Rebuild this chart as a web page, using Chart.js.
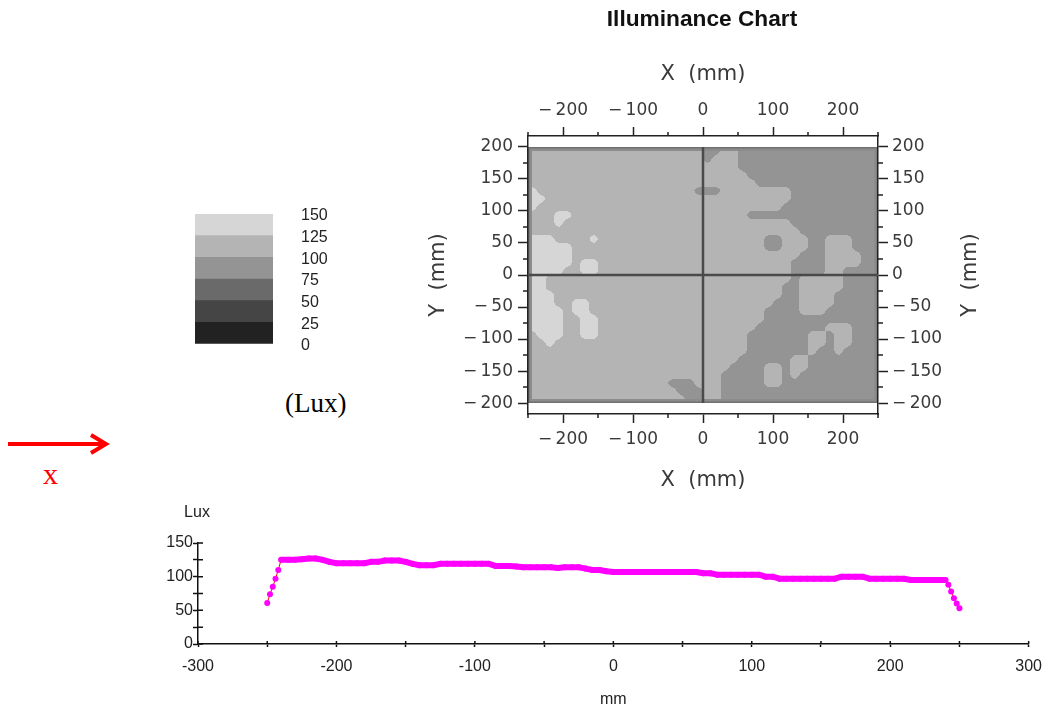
<!DOCTYPE html>
<html>
<head>
<meta charset="utf-8">
<title>Illuminance Chart</title>
<script src="https://cdn.jsdelivr.net/npm/chart.js@4.4.1/dist/chart.umd.min.js"></script>
<style>
  html, body { margin: 0; padding: 0; background: #fff; }
  body { position: relative; width: 1052px; height: 711px; overflow: hidden; }
  canvas, .lbl, svg { position: absolute; }
  #map { left: 397px; top: 0; }
  #scale { left: 180px; top: 190px; }
  #profile { left: 150px; top: 500px; }
  #luxUnit { left: 285px; top: 388px; font: 27px/30px "Liberation Serif", "Times New Roman", serif; color: #000; }
  #dirLabel { left: 43px; top: 459px; font: 30px/30px "Liberation Serif", "Times New Roman", serif; color: #ff0000; }
</style>
</head>
<body>
<canvas id="map" width="610" height="500"></canvas>
<canvas id="scale" width="180" height="170"></canvas>
<canvas id="profile" width="902" height="211"></canvas>
<div class="lbl" id="luxUnit">(Lux)</div>
<svg style="left:0;top:425px" width="120" height="40">
  <line x1="8" y1="19" x2="104" y2="19" stroke="#ff0000" stroke-width="4"/>
  <polyline points="91,10 106,19 91,28" fill="none" stroke="#ff0000" stroke-width="4"/>
</svg>
<div class="lbl" id="dirLabel">x</div>
<script>
// grey bands, Lux
var levelEdges = [0, 25, 50, 75, 100, 125, 150];
var levelColors = ['#222222', '#454545', '#6a6a6a', '#949494', '#b4b4b4', '#d6d6d6'];

// measured grid: 12.5 mm cells, columns x = -250..250, rows y = 200..-200, digit = band index
var cellSize = 12.5;
var mapRows = [
  "4444444444444444444433443333333333333333",
  "4444444444444444444434443333333333333333",
  "4444444444444444444444443333333333333333",
  "4444444444444444444444444333333333333333",
  "4444444444444444444444444433333333333333",
  "5444444444444444444333444444443333333333",
  "5544444444444444444444444444443333333333",
  "5444444444444444444444444444433333333333",
  "4445544444444444444444444333333333333333",
  "4445444444444444444444444444443333333333",
  "4444444444444444444444444444444333333333",
  "5554444544444444444444444443344433444333",
  "5555544444444444444444444443344433444333",
  "5555544444444444444444444444444333444433",
  "5555545544444444444444444444443333444433",
  "5555445544444444444444444444443333443333",
  "5544444444444444444444444444443444443333",
  "5544444444444444444444444444433444443333",
  "5554444444444444444444444444433444433333",
  "5554455444444444444444444444333444433333",
  "5555455444444444444444444443333444333333",
  "5555445544444444444444444443333333333333",
  "5555445544444444444444444433333333444333",
  "4555445544444444444444444333333344344333",
  "4454444444444444444444444333333344344333",
  "4444444444444444444444444333333343343333",
  "4444444444444444444444443333334433333333",
  "4444444444444444444444433334434433333333",
  "4444444444444444444444333334434333333333",
  "4444444444444444333444333334433333333333",
  "4444444444444444433344333333333333333333",
  "4444444444444444443344333333333333333333"
];

var mapXTicks = [-200, -100, 0, 100, 200];
var mapXMinor = [-250, -150, -50, 50, 150, 250];
var mapYTicks = [-200, -150, -100, -50, 0, 50, 100, 150, 200];
var mapYMinor = [-175, -125, -75, -25, 25, 75, 125, 175];

// centre cross of the fixture
var crossH = [[-250, 0], [250, 0]];
var crossV = [[0, 200], [0, -200]];

// illuminance along y = 0
var profileX = [-250, -248, -246, -244, -242, -240, -235, -230, -225, -220, -215, -210, -205, -200,
  -195, -190, -185, -180, -175, -170, -165, -160, -155, -150, -145, -140, -135, -130, -125, -120,
  -115, -110, -105, -100, -95, -90, -85, -80, -75, -70, -65, -60, -55, -50, -45, -40, -35, -30,
  -25, -20, -15, -10, -5, 0, 5, 10, 15, 20, 25, 30, 35, 40, 45, 50, 55, 60, 65, 70, 75, 80, 85,
  90, 95, 100, 105, 110, 115, 120, 125, 130, 135, 140, 145, 150, 155, 160, 165, 170, 175, 180,
  185, 190, 195, 200, 205, 210, 215, 220, 225, 230, 235, 240, 242, 244, 246, 248, 250];
var profileLux = [61, 74, 85, 97, 110, 125, 125, 125, 126, 127, 127, 125, 122, 120,
  120, 120, 120, 120, 122, 122, 124, 124, 124, 122, 119, 117, 117, 117, 119, 119,
  119, 119, 119, 119, 119, 119, 116, 116, 116, 115, 114, 114, 114, 114, 114, 113, 114, 114,
  114, 112, 110, 110, 108, 107, 107, 107, 107, 107, 107, 107, 107, 107, 107, 107, 107, 107, 105, 105, 103, 103, 103,
  103, 103, 103, 103, 100, 100, 97, 97, 97, 97, 97, 97, 97, 97, 97, 100, 100, 100, 100,
  97, 97, 97, 97, 97, 97, 95, 95, 95, 95, 95, 95, 88, 78, 68, 60, 53];

function minus(v) { return v < 0 ? '\u2212\u2009' + (-v) : String(v); }
function setTicks(list) {
  return function (s) { s.ticks = list.map(function (v) { return { value: v }; }); };
}
function hexRgb(h) {
  return [parseInt(h.substr(1, 2), 16), parseInt(h.substr(3, 2), 16), parseInt(h.substr(5, 2), 16)];
}
function cellLevel(r, c) {
  r = Math.max(0, Math.min(mapRows.length - 1, r));
  c = Math.max(0, Math.min(mapRows[0].length - 1, c));
  return +mapRows[r].charAt(c);
}
function sampleLevel(fc, fr) {
  var c0 = Math.floor(fc), r0 = Math.floor(fr), tc = fc - c0, tr = fr - r0;
  var a = cellLevel(r0, c0), b = cellLevel(r0, c0 + 1);
  var c = cellLevel(r0 + 1, c0), d = cellLevel(r0 + 1, c0 + 1);
  return (a * (1 - tc) + b * tc) * (1 - tr) + (c * (1 - tc) + d * tc) * tr;
}

// filled contour bands, painted under the axes
var contourPlugin = {
  id: 'contour',
  beforeDraw: function (chart) {
    var ctx = chart.ctx, xs = chart.scales.x, ys = chart.scales.y;
    var x0 = Math.round(xs.getPixelForValue(-250)), x1 = Math.round(xs.getPixelForValue(250));
    var y0 = Math.round(ys.getPixelForValue(200)), y1 = Math.round(ys.getPixelForValue(-200));
    var w = x1 - x0, h = y1 - y0;
    var img = ctx.createImageData(w, h);
    var rgb = levelColors.map(hexRgb);
    for (var py = 0; py < h; py++) {
      var fr = (200 - ys.getValueForPixel(y0 + py + 0.5)) / cellSize - 0.5;
      for (var px = 0; px < w; px++) {
        var fc = (xs.getValueForPixel(x0 + px + 0.5) + 250) / cellSize - 0.5;
        var col = rgb[Math.round(sampleLevel(fc, fr))];
        var k = (py * w + px) * 4;
        img.data[k] = col[0]; img.data[k + 1] = col[1]; img.data[k + 2] = col[2]; img.data[k + 3] = 255;
      }
    }
    ctx.putImageData(img, x0, y0);
    ctx.save();
    ctx.strokeStyle = '#8c8c8c'; ctx.lineWidth = 4;
    ctx.strokeRect(x0 + 2, y0 + 2, w - 4, h - 4);
    ctx.strokeStyle = '#707070'; ctx.lineWidth = 1.5;
    ctx.strokeRect(x0 + 0.75, y0 + 0.75, w - 1.5, h - 1.5);
    ctx.restore();
  }
};

// short ticks between the labelled ones, and the right axis title
var mapMarks = {
  id: 'mapMarks',
  afterDraw: function (chart) {
    var ctx = chart.ctx, s = chart.scales;
    ctx.save();
    ctx.strokeStyle = '#222'; ctx.lineWidth = 1.5;
    ctx.beginPath();
    mapXMinor.forEach(function (v) {
      var px = s.x.getPixelForValue(v);
      ctx.moveTo(px, s.x.top); ctx.lineTo(px, s.x.top + 4);
      px = s.x2.getPixelForValue(v);
      ctx.moveTo(px, s.x2.bottom); ctx.lineTo(px, s.x2.bottom - 4);
    });
    mapYMinor.forEach(function (v) {
      var py = s.y.getPixelForValue(v);
      ctx.moveTo(s.y.right, py); ctx.lineTo(s.y.right - 5, py);
      py = s.y2.getPixelForValue(v);
      ctx.moveTo(s.y2.left, py); ctx.lineTo(s.y2.left + 5, py);
    });
    ctx.stroke();
    ctx.fillStyle = '#3a3a3a';
    ctx.font = '21px "DejaVu Sans"';
    ctx.textAlign = 'center'; ctx.textBaseline = 'middle';
    ctx.translate(s.y2.right - 36, s.y2.getPixelForValue(0));
    ctx.rotate(-Math.PI / 2);
    ctx.fillText('Y  (mm)', 0, 0);
    ctx.restore();
  }
};

var mapTickFont = { family: 'DejaVu Sans', size: 17 };
var mapTitleFont = { family: 'DejaVu Sans', size: 21, lineHeight: '24px' };
var mapText = '#3a3a3a';
var frameGrid = function (len) {
  return { display: true, drawOnChartArea: false, drawTicks: true, tickLength: len, tickColor: '#222', tickWidth: 1.5 };
};
var frameBorder = { display: true, color: '#222', width: 1.5 };

new Chart(document.getElementById('map'), {
  type: 'scatter',
  data: {
    datasets: [
      { data: crossH.map(function (p) { return { x: p[0], y: p[1] }; }), showLine: true, borderColor: '#4a4a4a', borderWidth: 2.5, pointRadius: 0 },
      { data: crossV.map(function (p) { return { x: p[0], y: p[1] }; }), showLine: true, borderColor: '#4a4a4a', borderWidth: 2.5, pointRadius: 0 }
    ]
  },
  options: {
    responsive: false, animation: false, devicePixelRatio: 1,
    layout: { padding: 0 },
    events: [],
    plugins: {
      legend: { display: false },
      tooltip: { enabled: false },
      title: {
        display: true, text: 'Illuminance Chart', color: '#111',
        font: { family: 'Liberation Sans', size: 22.7, weight: 'bold', lineHeight: '24px' },
        padding: { top: 8, bottom: 8 }
      }
    },
    scales: {
      x: {
        type: 'linear', position: 'bottom', min: -250, max: 250,
        afterBuildTicks: setTicks(mapXTicks),
        afterFit: function (s) { s.height = 86; },
        ticks: { font: mapTickFont, color: mapText, padding: 6, maxRotation: 0, autoSkip: false, callback: minus },
        grid: frameGrid(9), border: frameBorder,
        title: { display: true, text: 'X  (mm)', color: mapText, font: mapTitleFont, padding: { top: 0, bottom: 7 } }
      },
      x2: {
        type: 'linear', position: 'top', min: -250, max: 250,
        afterBuildTicks: setTicks(mapXTicks),
        afterFit: function (s) { s.height = 96; },
        ticks: { font: mapTickFont, color: mapText, padding: 6, maxRotation: 0, autoSkip: false, callback: minus },
        grid: frameGrid(9), border: frameBorder,
        title: { display: true, text: 'X  (mm)', color: mapText, font: mapTitleFont, padding: { top: 23, bottom: 0 } }
      },
      y: {
        type: 'linear', position: 'left', min: -217, max: 217,
        afterBuildTicks: setTicks(mapYTicks),
        afterFit: function (s) { s.width = 131; },
        ticks: { font: mapTickFont, color: mapText, padding: 5, autoSkip: false, callback: minus },
        grid: frameGrid(10), border: frameBorder,
        title: { display: true, text: 'Y  (mm)', color: mapText, font: mapTitleFont, padding: { top: 30, bottom: 0 } }
      },
      y2: {
        type: 'linear', position: 'right', min: -217, max: 217,
        afterBuildTicks: setTicks(mapYTicks),
        afterFit: function (s) { s.width = 129; },
        ticks: { font: mapTickFont, color: mapText, padding: 4, autoSkip: false, callback: minus },
        grid: frameGrid(10), border: frameBorder
      }
    }
  },
  plugins: [contourPlugin, mapMarks]
});

// colour key; the gap before the labels is an invisible tick mark
new Chart(document.getElementById('scale'), {
  type: 'bar',
  data: {
    labels: ['Lux'],
    datasets: levelColors.map(function (c, i) {
      return {
        data: [[levelEdges[i], levelEdges[i + 1]]], backgroundColor: c, borderWidth: 0,
        grouped: false, barPercentage: 1, categoryPercentage: 1
      };
    })
  },
  options: {
    responsive: false, animation: false, devicePixelRatio: 1, events: [],
    layout: { padding: { left: 15, top: 24, bottom: 16, right: 0 } },
    plugins: { legend: { display: false }, tooltip: { enabled: false } },
    scales: {
      x: { display: false },
      y: {
        position: 'right', min: 0, max: 150,
        afterBuildTicks: setTicks(levelEdges),
        afterFit: function (s) { s.width = 87; },
        grid: { display: true, drawOnChartArea: false, drawTicks: true, tickLength: 28, tickColor: 'rgba(0,0,0,0)' },
        border: { display: false },
        ticks: { padding: 0, labelOffset: 2, autoSkip: false, color: '#222', font: { family: 'Liberation Sans', size: 16 } }
      }
    }
  }
});

// ticks crossing the axis lines, and the unit above the y axis
var profileMarks = {
  id: 'profileMarks',
  afterDraw: function (chart) {
    var ctx = chart.ctx, xs = chart.scales.x, ys = chart.scales.y, a = chart.chartArea;
    ctx.save();
    ctx.strokeStyle = '#111'; ctx.lineWidth = 1.5;
    ctx.beginPath();
    xs.ticks.forEach(function (t) {
      var px = xs.getPixelForValue(t.value);
      ctx.moveTo(px, a.bottom); ctx.lineTo(px, a.bottom - 3);
    });
    ys.ticks.forEach(function (t) {
      var py = ys.getPixelForValue(t.value);
      ctx.moveTo(a.left, py); ctx.lineTo(a.left + 5, py);
    });
    ctx.stroke();
    ctx.fillStyle = '#222';
    ctx.font = '16px "Liberation Sans"';
    ctx.textAlign = 'center'; ctx.textBaseline = 'middle';
    ctx.fillText('Lux', a.left - 1, 13);
    ctx.restore();
  }
};

function steep(c) { return Math.abs(c.p1.parsed.y - c.p0.parsed.y) > 5; }
var profileFont = { family: 'Liberation Sans', size: 16 };

new Chart(document.getElementById('profile'), {
  type: 'scatter',
  data: {
    datasets: [{
      data: profileX.map(function (x, i) { return { x: x, y: profileLux[i] }; }),
      showLine: true, borderColor: '#ff00ff', borderWidth: 6, borderJoinStyle: 'round',
      pointRadius: 3, pointBackgroundColor: '#ff00ff', pointBorderWidth: 0,
      segment: {
        borderColor: function (c) { return steep(c) ? '#ff0000' : undefined; },
        borderWidth: function (c) { return steep(c) ? 1 : undefined; }
      }
    }]
  },
  options: {
    responsive: false, animation: false, devicePixelRatio: 1, events: [],
    layout: { padding: { top: 43, right: 19, left: 0, bottom: 0 } },
    plugins: { legend: { display: false }, tooltip: { enabled: false } },
    scales: {
      x: {
        type: 'linear', min: -300, max: 300,
        afterFit: function (s) { s.height = 67; },
        ticks: {
          stepSize: 50, autoSkip: false, maxRotation: 0, padding: 10, color: '#222', font: profileFont,
          callback: function (v) { return v % 100 === 0 ? String(v) : ''; }
        },
        grid: { display: true, drawOnChartArea: false, tickLength: 3, tickColor: '#111', tickWidth: 1.5 },
        border: { display: true, color: '#111', width: 1.5 },
        title: { display: true, text: 'mm', color: '#222', font: { family: 'Liberation Sans', size: 16, lineHeight: '20px' }, padding: { top: 0, bottom: 1 } }
      },
      y: {
        type: 'linear', min: 0, max: 150,
        afterFit: function (s) { s.width = 48; },
        ticks: {
          stepSize: 25, autoSkip: false, padding: 0, color: '#222', font: profileFont,
          callback: function (v) { return v % 50 === 0 ? String(v) : ''; }
        },
        grid: { display: true, drawOnChartArea: false, tickLength: 5, tickColor: '#111', tickWidth: 1.5 },
        border: { display: true, color: '#111', width: 1.5 }
      }
    }
  },
  plugins: [profileMarks]
});
</script>
</body>
</html>
